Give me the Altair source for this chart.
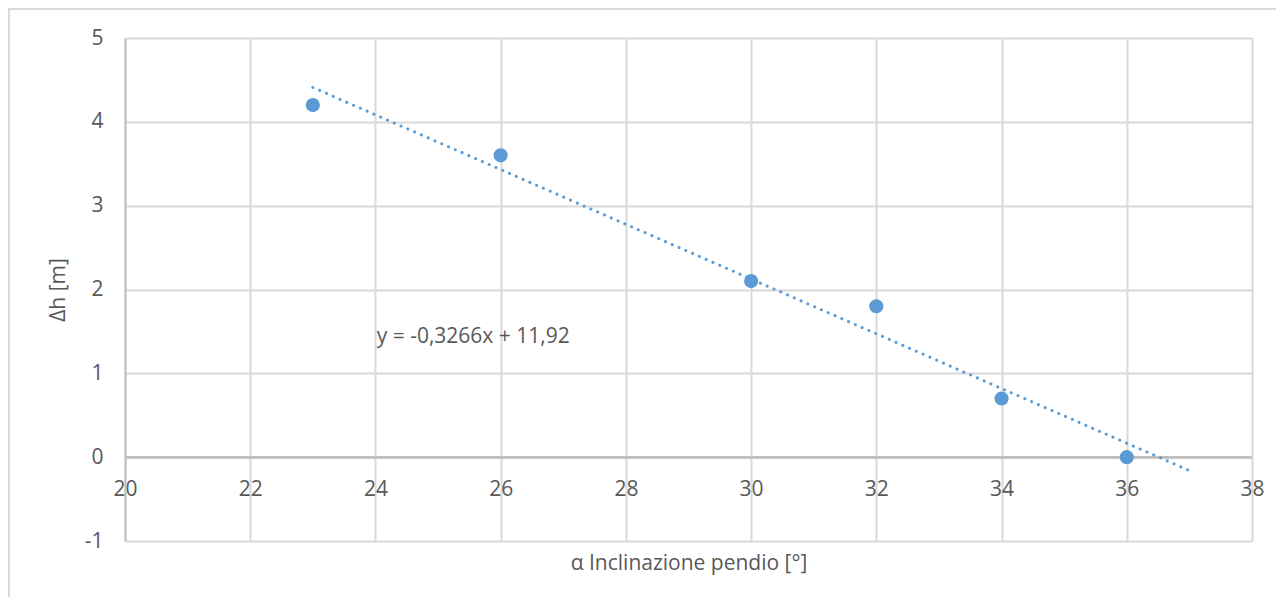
import altair as alt
import pandas as pd

# data points
angle = [23, 26, 30, 32, 34, 36]
dh = [4.2, 3.6, 2.1, 1.8, 0.7, 0.0]

# trendline endpoints
trend_x = [23, 37]
trend_y = [4.41, -0.16]

# equation label
eq_text = ["y = -0,3266x + 11,92"]
eq_x = [24.02]
eq_y = [1.43]

x_ticks = [20, 22, 24, 26, 28, 30, 32, 34, 36, 38]
y_ticks = [-1, 0, 1, 2, 3, 4, 5]

W, H = 1127, 503
FONT = "Open Sans"
TXT = "#595959"
FS = 21

pts = pd.DataFrame({"x": angle, "y": dh})
trend = pd.DataFrame({"x": trend_x, "y": trend_y})
eq = pd.DataFrame({"x": eq_x, "y": eq_y, "t": eq_text})

xs = alt.Scale(domain=[20, 38], nice=False, zero=False)
ys = alt.Scale(domain=[-1, 5], nice=False, zero=False)

xaxis = alt.Axis(
    values=x_ticks, title="α Inclinazione pendio [°]",
    labelExpr="'' + datum.value", labelFlush=False,
    offset=-84, domain=False, ticks=False, labelPadding=21,
    labelFontSize=FS, labelColor=TXT, labelFont=FONT,
    grid=True, gridColor="#d9d9d9", gridWidth=2,
    titleFontSize=FS, titleFont=FONT, titleColor=TXT, titleFontWeight="normal",
    titleY=106, titleBaseline="middle",
)
yaxis = alt.Axis(
    values=y_ticks, title="Δh [m]",
    labelExpr="'' + datum.value", labelFlush=False,
    domain=True, domainColor="#bfbfbf", domainWidth=2, ticks=False,
    labelPadding=22, labelFontSize=FS, labelColor=TXT, labelFont=FONT,
    grid=True, gridColor="#d9d9d9", gridWidth=2,
    titleFontSize=FS, titleFont=FONT, titleColor=TXT, titleFontWeight="normal",
    titleX=-67, titleY=H / 2, titleAngle=-90, titleBaseline="middle", titleAlign="center",
)

frame = alt.Chart(pts).mark_rect(filled=False, stroke="#d9d9d9", strokeWidth=1.5, clip=False).encode(
    x=alt.value(-116), x2=alt.value(W + 300), y=alt.value(-29), y2=alt.value(H + 300)
)

base = alt.Chart(pts).mark_point(opacity=0).encode(
    x=alt.X("x:Q", scale=xs, axis=xaxis),
    y=alt.Y("y:Q", scale=ys, axis=yaxis),
)

zero = alt.Chart(pts).mark_rule(color="#bfbfbf", strokeWidth=2).encode(
    y=alt.datum(0, scale=ys)
)

tl = alt.Chart(trend).mark_line(
    color="#5b9bd5", strokeWidth=3, strokeDash=[0.1, 7.3], strokeCap="round"
).encode(x=alt.X("x:Q", scale=xs), y=alt.Y("y:Q", scale=ys))

dots = alt.Chart(pts).mark_circle(size=200, color="#5b9bd5", opacity=1).encode(
    x=alt.X("x:Q", scale=xs), y=alt.Y("y:Q", scale=ys)
)

label = alt.Chart(eq).mark_text(
    align="left", baseline="middle", fontSize=FS, font=FONT, color=TXT
).encode(x=alt.X("x:Q", scale=xs), y=alt.Y("y:Q", scale=ys), text="t:N")

chart = alt.layer(frame, base, zero, tl, dots, label).properties(
    width=W, height=H,
    autosize=alt.AutoSizeParams(type="none"),
    padding={"left": 117, "top": 30, "right": 24, "bottom": 56},
).configure_view(stroke=None)

chart.save("out.html", embed_options={"renderer": "svg", "actions": False})
